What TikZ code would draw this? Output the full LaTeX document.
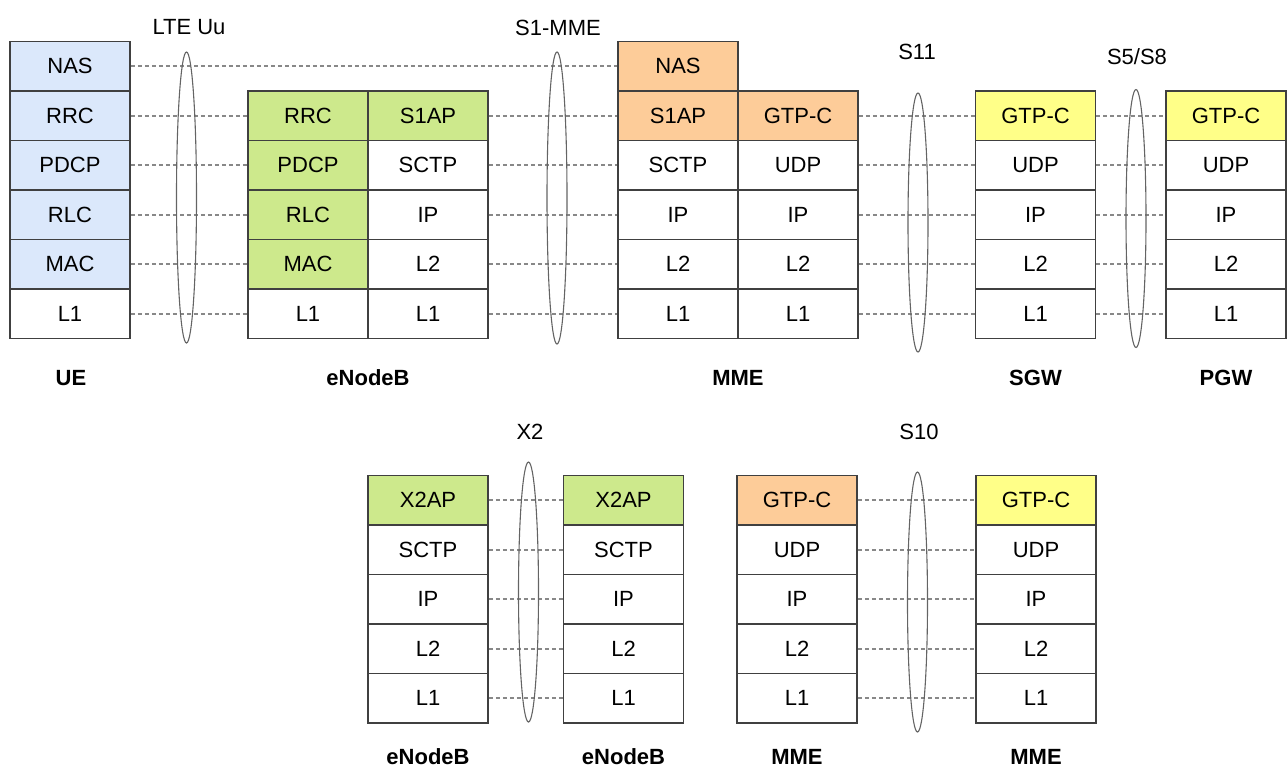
\documentclass[tikz,border=0pt]{standalone}
\usepackage{fontspec}
\setmainfont{Liberation Sans}
\usetikzlibrary{shapes.geometric}
\definecolor{ueblue}{RGB}{219,232,251}
\definecolor{enbgreen}{RGB}{205,233,140}
\definecolor{mmeorange}{RGB}{253,204,153}
\definecolor{gwyellow}{RGB}{255,255,136}
\definecolor{boxline}{RGB}{64,64,64}
\definecolor{dashgray}{RGB}{136,136,136}
\definecolor{ellgray}{RGB}{100,100,100}
\begin{document}
\begin{tikzpicture}[x=1pt,y=-1pt,
  layer/.style={draw=boxline,line width=1.5pt,minimum width=120pt,minimum height=49.5pt,inner sep=0pt,font=\fontsize{22}{26}\selectfont},
  blu/.style={layer,fill=ueblue},
  grn/.style={layer,fill=enbgreen},
  org/.style={layer,fill=mmeorange},
  ylw/.style={layer,fill=gwyellow},
  wht/.style={layer,fill=white},
  link/.style={draw=dashgray,line width=2pt,dash pattern=on 4pt off 3pt},
  iface/.style={ellipse,draw=ellgray,line width=1.1pt,minimum width=20pt,inner sep=0pt},
  iflabel/.style={font=\fontsize{22}{26}\selectfont},
  host/.style={font=\fontsize{22}{26}\selectfont\bfseries}]
\useasboundingbox (0,0) rectangle (1288,769);

% ---------- top row ----------
% UE
\node[blu] (ue1) at (70,66.25) {NAS};
\node[blu] (ue2) at (70,115.75) {RRC};
\node[blu] (ue3) at (70,165.25) {PDCP};
\node[blu] (ue4) at (70,214.75) {RLC};
\node[blu] (ue5) at (70,264.25) {MAC};
\node[wht] (ue6) at (70,313.75) {L1};
% eNodeB
\node[grn] (enbA2) at (308,115.75) {RRC};
\node[grn] (enbA3) at (308,165.25) {PDCP};
\node[grn] (enbA4) at (308,214.75) {RLC};
\node[grn] (enbA5) at (308,264.25) {MAC};
\node[wht] (enbA6) at (308,313.75) {L1};
\node[grn] (enbB2) at (428,115.75) {S1AP};
\node[wht] (enbB3) at (428,165.25) {SCTP};
\node[wht] (enbB4) at (428,214.75) {IP};
\node[wht] (enbB5) at (428,264.25) {L2};
\node[wht] (enbB6) at (428,313.75) {L1};
% MME
\node[org] (mmeA1) at (678,66.25) {NAS};
\node[org] (mmeA2) at (678,115.75) {S1AP};
\node[wht] (mmeA3) at (678,165.25) {SCTP};
\node[wht] (mmeA4) at (678,214.75) {IP};
\node[wht] (mmeA5) at (678,264.25) {L2};
\node[wht] (mmeA6) at (678,313.75) {L1};
\node[org] (mmeB2) at (798,115.75) {GTP-C};
\node[wht] (mmeB3) at (798,165.25) {UDP};
\node[wht] (mmeB4) at (798,214.75) {IP};
\node[wht] (mmeB5) at (798,264.25) {L2};
\node[wht] (mmeB6) at (798,313.75) {L1};
% SGW
\node[ylw] (sgw2) at (1035.5,115.75) {GTP-C};
\node[wht] (sgw3) at (1035.5,165.25) {UDP};
\node[wht] (sgw4) at (1035.5,214.75) {IP};
\node[wht] (sgw5) at (1035.5,264.25) {L2};
\node[wht] (sgw6) at (1035.5,313.75) {L1};
% PGW
\node[ylw] (pgw2) at (1226,115.75) {GTP-C};
\node[wht] (pgw3) at (1226,165.25) {UDP};
\node[wht] (pgw4) at (1226,214.75) {IP};
\node[wht] (pgw5) at (1226,264.25) {L2};
\node[wht] (pgw6) at (1226,313.75) {L1};

% connectors top
\draw[link] (ue1.east) -- (mmeA1.west);
\foreach \i in {2,...,6}{
  \draw[link] (ue\i.east) -- (enbA\i.west);
  \draw[link] (enbB\i.east) -- (mmeA\i.west);
  \draw[link] (mmeB\i.east) -- (sgw\i.west);
  \draw[link] (sgw\i.east) -- (pgw\i.west);
}

% interfaces top
\node[iface,minimum height=291pt] (uu) at (186.5,197.5) {};
\node[iface,minimum height=292pt] (s1) at (557,198) {};
\node[iface,minimum height=259pt] (s11) at (918,222.5) {};
\node[iface,minimum height=258pt] (s5) at (1136,218.5) {};
\node[iflabel] (uuL) at (189,27.5) {LTE Uu};
\node[iflabel] (s1L) at (558,27.5) {S1-MME};
\node[iflabel] (s11L) at (917,51.5) {S11};
\node[iflabel] (s5L) at (1137,57) {S5/S8};

% hosts top
\node[host] (hUE) at (71,378) {UE};
\node[host] (hENB) at (368,378) {eNodeB};
\node[host] (hMME) at (738,378) {MME};
\node[host] (hSGW) at (1035.5,378) {SGW};
\node[host] (hPGW) at (1226,378) {PGW};

% ---------- bottom row ----------
\node[grn] (xa1) at (428,500.25) {X2AP};
\node[wht] (xa2) at (428,549.75) {SCTP};
\node[wht] (xa3) at (428,599.25) {IP};
\node[wht] (xa4) at (428,648.75) {L2};
\node[wht] (xa5) at (428,698.25) {L1};
\node[grn] (xb1) at (623.5,500.25) {X2AP};
\node[wht] (xb2) at (623.5,549.75) {SCTP};
\node[wht] (xb3) at (623.5,599.25) {IP};
\node[wht] (xb4) at (623.5,648.75) {L2};
\node[wht] (xb5) at (623.5,698.25) {L1};
\node[org] (ma1) at (797,500.25) {GTP-C};
\node[wht] (ma2) at (797,549.75) {UDP};
\node[wht] (ma3) at (797,599.25) {IP};
\node[wht] (ma4) at (797,648.75) {L2};
\node[wht] (ma5) at (797,698.25) {L1};
\node[ylw] (mb1) at (1036,500.25) {GTP-C};
\node[wht] (mb2) at (1036,549.75) {UDP};
\node[wht] (mb3) at (1036,599.25) {IP};
\node[wht] (mb4) at (1036,648.75) {L2};
\node[wht] (mb5) at (1036,698.25) {L1};

\foreach \i in {1,...,5}{
  \draw[link] (xa\i.east) -- (xb\i.west);
  \draw[link] (ma\i.east) -- (mb\i.west);
}

\node[iface,minimum height=260pt] (x2) at (528.5,592) {};
\node[iface,minimum height=260pt] (s10) at (917.5,602) {};
\node[iflabel] (x2L) at (530,432) {X2};
\node[iflabel] (s10L) at (919,432) {S10};

\node[host] (hX1) at (428,757) {eNodeB};
\node[host] (hX2) at (623.5,757) {eNodeB};
\node[host] (hM1) at (797,757) {MME};
\node[host] (hM2) at (1036,757) {MME};
\end{tikzpicture}
\end{document}
